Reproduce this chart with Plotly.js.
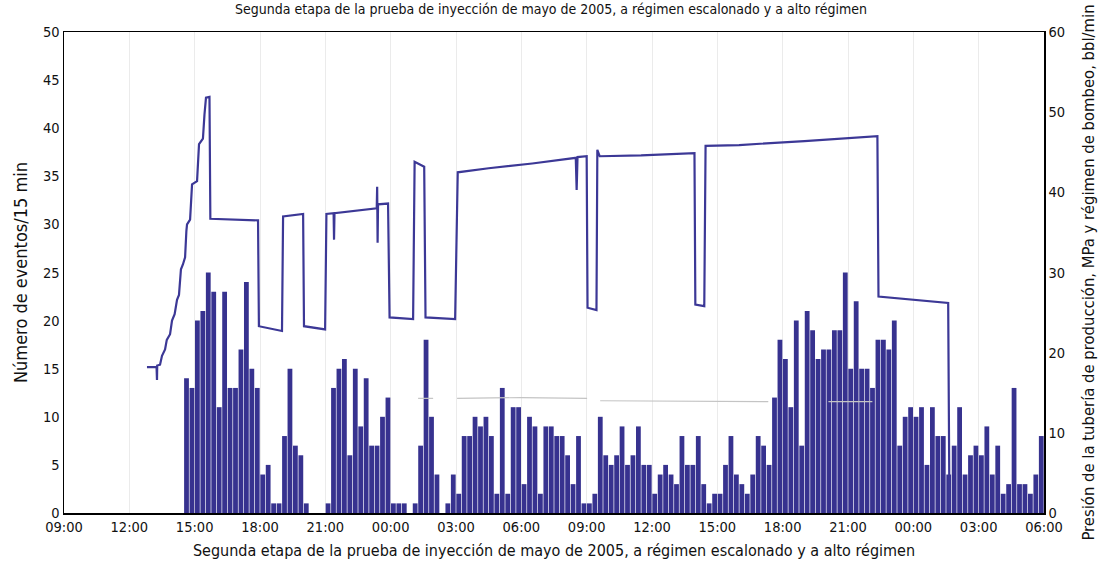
<!DOCTYPE html>
<html>
<head>
<meta charset="utf-8">
<script src="https://cdn.plot.ly/plotly-3.0.1.min.js"></script>
<style>html,body{margin:0;padding:0;background:#fff;}#chart{width:1102px;height:568px;}</style>
</head>
<body>
<div id="chart"></div>
<script>
// Time axis: hours elapsed since 09:00 of the first day
const tickHours = [0,3,6,9,12,15,18,21,24,27,30,33,36,39,42,45];
const tickLabels = ["09:00","12:00","15:00","18:00","21:00","00:00","03:00","06:00","09:00","12:00","15:00","18:00","21:00","00:00","03:00","06:00"];

// Events per 15-minute bin, first bin starts 14:30 (5.5 h)
const firstBinHour = 5.5;
const binHours = 0.25;
const eventCounts = [
  14,13,20,21,25,23,11,23,13,13,17,24,15,13,4,5,1,1,8,15,7,6,1,0,0,0,1,13,15,16,
  6,15,9,14,7,7,10,12,1,1,1,0,1,7,18,10,4,0,1,4,2,8,8,10,9,10,8,2,13,2,11,11,
  3,10,9,2,9,9,8,8,6,3,8,1,1,2,10,6,5,6,9,5,6,9,5,5,2,4,5,4,3,8,5,
  5,8,3,1,2,2,5,8,4,3,2,4,8,7,5,12,18,16,11,20,7,21,19,16,17,17,19,19,25,15,22,15,
  15,13,18,18,17,20,7,10,11,10,11,5,11,8,8,4,7,11,4,6,7,6,9,4,7,2,3,13,3,3,2,4,8
];

// Tubing pressure / pump rate (right axis)
const pressureHours = [3.81,4.25,4.27,4.28,4.41,4.5,4.64,4.72,4.87,4.96,5.08,5.19,5.28,5.37,5.46,5.56,5.62,5.65,5.79,5.86,5.88,6.11,6.2,6.25,6.38,6.45,6.52,6.68,6.72,8.91,8.95,10.01,10.06,10.98,11.02,11.99,12.05,12.38,12.4,12.42,14.36,14.38,14.4,14.42,14.88,14.95,16.03,16.1,16.54,16.6,17.96,18.08,19.5,21.5,23.5,23.54,23.58,24.0,24.04,24.45,24.49,24.6,26.5,28.95,28.99,29.4,29.46,31.0,34.0,37.35,37.4,40.6,40.66];
const pressureValues = [18.2,18.2,16.6,18.4,18.5,19.6,20.4,21.6,22.3,24.0,24.8,26.6,27.2,30.4,31.0,31.9,35.2,36.0,36.6,40.7,41.0,41.4,46.0,46.2,46.7,49.7,51.8,51.9,36.7,36.5,23.3,22.7,37.0,37.3,23.3,22.9,37.3,37.4,34.1,37.4,38.0,40.7,33.7,38.5,38.6,24.4,24.2,43.8,43.2,24.4,24.2,42.5,43.0,43.6,44.3,40.3,44.4,44.5,25.6,25.3,45.3,44.5,44.6,44.9,26.0,25.8,45.8,45.9,46.4,47.0,27.0,26.2,0];

// Faint secondary curve (right axis)
const faintHours = [16.26,16.95,null,18.05,21.0,24.02,null,24.62,29.08,32.34,null,35.1,37.12];
const faintValues = [14.3,14.3,null,14.3,14.4,14.3,null,14.0,13.9,13.9,null,13.9,13.9];

const barX = eventCounts.map((_, k) => firstBinHour + binHours * k + binHours / 2);

const FONT = "'Liberation Sans Narrow', 'DejaVu Sans Condensed', 'Arial Narrow', sans-serif";

const traces = [
  {type:'bar', x: barX, y: eventCounts, yaxis:'y', xaxis:'x',
   marker:{color:'#37328f', line:{width:0}}, hoverinfo:'x+y', showlegend:false},
  {type:'scatter', mode:'lines', x: faintHours, y: faintValues, yaxis:'y2', xaxis:'x',
   line:{color:'#c4c4c4', width:1.2}, connectgaps:false, showlegend:false},
  {type:'scatter', mode:'lines', x: pressureHours, y: pressureValues, yaxis:'y2', xaxis:'x',
   line:{color:'#3c3896', width:2.2}, showlegend:false}
];

const layout = {
  width:1102, height:568,
  margin:{l:64, r:58, t:32, b:55},
  paper_bgcolor:'#ffffff', plot_bgcolor:'#ffffff',
  font:{family:FONT, size:14, color:'#111'},
  bargap:0.12,
  showlegend:false,
  title:{text:'Segunda etapa de la prueba de inyección de mayo de 2005, a régimen escalonado y a alto régimen',
         font:{family:FONT, size:14, color:'#111'}, x:0.5, xanchor:'center', y:0.992, yref:'container', yanchor:'top'},
  xaxis:{range:[0,45], tickmode:'array', tickvals:tickHours, ticktext:tickLabels,
         showline:true, linecolor:'#000', linewidth:1.5, mirror:true,
         showgrid:true, gridcolor:'#ebebeb', gridwidth:1, zeroline:false, ticks:'',
         tickfont:{family:FONT, size:14.5, color:'#111'},
         title:{text:'Segunda etapa de la prueba de inyección de mayo de 2005, a régimen escalonado y a alto régimen',
                font:{family:FONT, size:16, color:'#111'}, standoff:11}},
  yaxis:{range:[0,50], dtick:5, tick0:0, showline:true, linecolor:'#000', linewidth:1.5,
         showgrid:false, zeroline:false, ticks:'',
         tickfont:{family:FONT, size:14.5, color:'#111'},
         title:{text:'Número de eventos/15 min', font:{family:FONT, size:18, color:'#111'}, standoff:10}},
  yaxis2:{range:[0,60], dtick:10, tick0:0, overlaying:'y', side:'right', showline:true,
          linecolor:'#000', linewidth:1.5, showgrid:false, zeroline:false, ticks:'',
          tickfont:{family:FONT, size:14.5, color:'#111'},
          title:{text:'Presión de la tubería de producción, MPa y régimen de bombeo, bbl/min',
                 font:{family:FONT, size:16.5, color:'#111'}, standoff:18}}
};

Plotly.newPlot('chart', traces, layout, {displayModeBar:false, staticPlot:true});
</script>
</body>
</html>
